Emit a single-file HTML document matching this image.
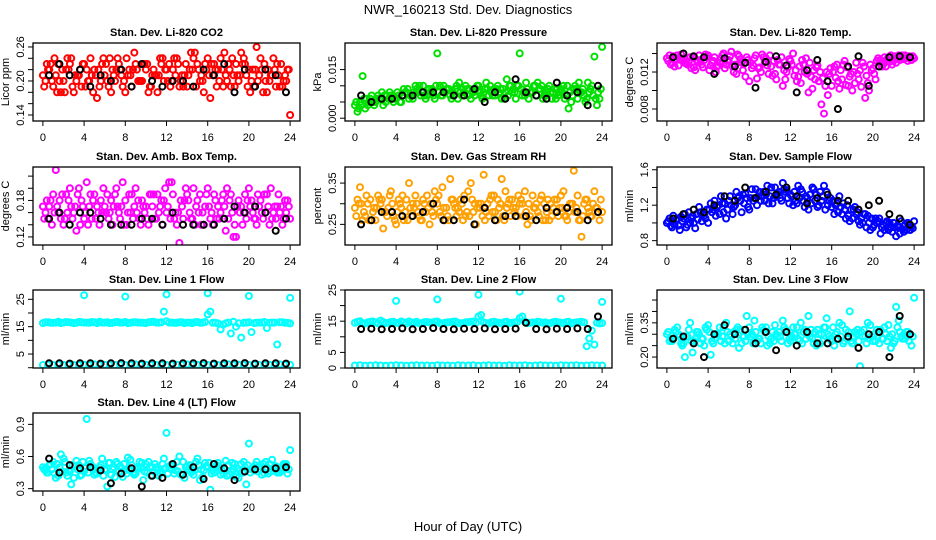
<!DOCTYPE html>
<html><head><meta charset="utf-8"><style>
html,body{margin:0;padding:0;background:#fff;}
svg{display:block;font-family:"Liberation Sans",Arial,sans-serif;}
</style></head><body>
<svg id="chart" width="936" height="540" viewBox="0 0 936 540" xmlns="http://www.w3.org/2000/svg">
<rect width="936" height="540" fill="#fff"/>
<text x="468" y="14" text-anchor="middle" font-size="13">NWR_160213 Std. Dev. Diagnostics</text>
<text x="468" y="531" text-anchor="middle" font-size="13">Hour of Day (UTC)</text>
</svg>
<script>
// ---- data ----
const xTicks = [0,4,8,12,16,20,24];
const titles = ["Stan. Dev. Li-820 CO2","Stan. Dev. Li-820 Pressure","Stan. Dev. Li-820 Temp.","Stan. Dev. Amb. Box Temp.","Stan. Dev. Gas Stream RH","Stan. Dev. Sample Flow","Stan. Dev. Line 1 Flow","Stan. Dev. Line 2 Flow","Stan. Dev. Line 3 Flow","Stan. Dev. Line 4 (LT) Flow"];
const yTitles = ["Licor ppm","kPa","degrees C","degrees C","percent","ml/min","ml/min","ml/min","ml/min","ml/min"];
const colors = ["#ff0000","#00e000","#ff00ff","#ff00ff","#ffa000","#0000ff","#00ffff","#00ffff","#00ffff","#00ffff"];
const yLims = [[0.1294,0.267],[-0.00086,0.0232],[0.0067,0.01514],[0.1067,0.235],[0.200,0.389],[0.751,1.631],[-0.1,28.4],[0,25],[0.152,0.494],[0.278,1.006]];
const yTickVals = [[0.14,0.16,0.18,0.20,0.22,0.24,0.26],[0,0.005,0.010,0.015],[0.008,0.010,0.012,0.014],[0.12,0.14,0.16,0.18,0.20,0.22],[0.25,0.30,0.35],[0.8,1.0,1.2,1.4,1.6],[0,5,10,15,20,25],[0,5,10,15,20,25],[0.20,0.25,0.30,0.35,0.40,0.45],[0.3,0.6,0.9]];
const yTickLabels = [["0.14","","","0.20","","","0.26"],["0.000","","","0.015"],["0.008","","0.012",""],["0.12","","","0.18","",""],["0.25","","0.35"],["0.8","","1.2","","1.6"],["","5","","15","","25"],["0","5","","15","","25"],["0.20","","","0.35","",""],["0.3","0.6","0.9"]];

const c1 = [
[0.21,0.22,0.19,0.23,0.20,0.22,0.18,0.21,0.23,0.20,0.22,0.19,0.21,0.24,0.20,0.22,0.18,0.21,0.23,0.20,0.22,0.19,0.21,0.23,0.22,0.20,0.24,0.21,0.19,0.22,0.23,0.20,0.24,0.21,0.22,0.19,0.23,0.21,0.20,0.24,0.22,0.19,0.21,0.23,0.20,0.22,0.19,0.21,0.14],
[0.004,0.005,0.003,0.006,0.005,0.006,0.005,0.007,0.006,0.005,0.008,0.007,0.009,0.008,0.007,0.009,0.020,0.007,0.009,0.008,0.006,0.009,0.007,0.008,0.010,0.008,0.007,0.009,0.008,0.006,0.010,0.008,0.020,0.007,0.008,0.010,0.009,0.007,0.008,0.006,0.009,0.007,0.005,0.009,0.008,0.006,0.010,0.004,0.022],
[0.0135,0.0130,0.0138,0.0133,0.0128,0.0136,0.0131,0.0125,0.0138,0.0132,0.0127,0.0140,0.0133,0.0120,0.0137,0.0129,0.0110,0.0135,0.0125,0.0131,0.0138,0.0118,0.0128,0.0112,0.0132,0.0122,0.0108,0.0135,0.0115,0.0125,0.0085,0.0120,0.0105,0.0128,0.0112,0.0125,0.0100,0.0118,0.0130,0.0108,0.0124,0.0135,0.0128,0.0136,0.0132,0.0138,0.0134,0.0137,0.0135],
[0.17,0.15,0.19,0.16,0.14,0.18,0.16,0.20,0.15,0.17,0.19,0.14,0.17,0.16,0.19,0.15,0.18,0.16,0.20,0.14,0.17,0.19,0.15,0.18,0.16,0.21,0.14,0.17,0.19,0.15,0.18,0.16,0.20,0.14,0.17,0.19,0.15,0.12,0.18,0.16,0.20,0.15,0.17,0.19,0.14,0.17,0.16,0.18,0.15],
[0.29,0.34,0.27,0.31,0.26,0.30,0.28,0.33,0.25,0.29,0.31,0.27,0.30,0.26,0.32,0.28,0.30,0.34,0.27,0.31,0.29,0.26,0.33,0.28,0.30,0.37,0.27,0.32,0.29,0.26,0.31,0.28,0.30,0.33,0.27,0.29,0.31,0.26,0.30,0.28,0.32,0.27,0.30,0.29,0.22,0.31,0.27,0.29,0.28],
[1.00,0.95,1.05,1.02,0.98,1.08,1.04,1.10,1.00,1.15,1.20,1.12,1.25,1.18,1.30,1.22,1.15,1.28,1.35,1.25,1.30,1.40,1.28,1.35,1.32,1.25,1.38,1.30,1.22,1.32,1.25,1.35,1.18,1.22,1.10,1.20,1.05,1.12,1.00,1.08,0.95,1.02,0.98,0.92,1.00,0.95,0.90,0.98,1.02],
[16.3,16.6,16.4,16.8,16.5,16.6,16.3,16.7,16.5,16.4,16.6,16.8,16.5,16.3,16.6,16.5,16.7,16.4,16.6,16.5,16.3,16.7,16.5,16.6,17.0,16.5,16.4,16.6,16.5,16.3,16.7,16.5,19.5,16.4,16.2,15.8,16.5,16.8,16.2,16.4,16.6,16.3,16.5,16.7,16.4,16.5,16.6,16.4,16.2],
[14.5,15.0,14.3,14.8,14.6,15.2,14.4,14.7,14.5,14.9,14.3,14.6,14.8,14.4,14.7,14.5,14.9,14.3,14.6,14.8,14.5,14.4,14.7,14.9,16.5,14.6,14.3,14.8,14.5,14.7,14.4,14.6,16.0,14.8,14.5,14.3,14.7,14.6,14.4,14.8,14.5,14.7,14.3,14.6,14.8,7.0,12.0,14.5,14.4],
[0.30,0.27,0.33,0.25,0.29,0.22,0.31,0.28,0.34,0.26,0.30,0.33,0.27,0.31,0.24,0.29,0.33,0.36,0.28,0.31,0.26,0.34,0.29,0.32,0.27,0.30,0.35,0.28,0.32,0.25,0.30,0.37,0.27,0.31,0.34,0.28,0.26,0.32,0.29,0.35,0.27,0.31,0.28,0.34,0.26,0.36,0.30,0.27,0.46],
[0.50,0.45,0.55,0.42,0.58,0.47,0.40,0.52,0.46,0.56,0.43,0.50,0.48,0.54,0.41,0.51,0.47,0.57,0.44,0.49,0.53,0.42,0.50,0.46,0.82,0.48,0.55,0.43,0.51,0.46,0.58,0.41,0.50,0.47,0.54,0.44,0.52,0.48,0.40,0.55,0.72,0.47,0.51,0.44,0.53,0.48,0.45,0.52,0.66]
];
const c2 = [
[0.20,0.23,0.21,0.18,0.22,0.24,0.20,0.19,0.22,0.21,0.17,0.23,0.20,0.22,0.24,0.19,0.21,0.22,0.20,0.23,0.18,0.22,0.21,0.20,0.23,0.24,0.19,0.21,0.22,0.25,0.20,0.23,0.17,0.22,0.24,0.21,0.19,0.23,0.25,0.21,0.20,0.26,0.22,0.18,0.21,0.23,0.19,0.22],
[0.002,0.013,0.004,0.005,0.007,0.004,0.006,0.005,0.007,0.009,0.006,0.008,0.010,0.007,0.009,0.006,0.010,0.008,0.007,0.009,0.008,0.010,0.006,0.009,0.007,0.011,0.008,0.009,0.006,0.012,0.008,0.010,0.007,0.009,0.008,0.011,0.006,0.009,0.008,0.007,0.010,0.003,0.009,0.011,0.007,0.008,0.019,0.006],
[0.0138,0.0126,0.0134,0.0130,0.0136,0.0122,0.0133,0.0139,0.0127,0.0120,0.0135,0.0128,0.0142,0.0118,0.0130,0.0136,0.0124,0.0113,0.0139,0.0127,0.0116,0.0133,0.0105,0.0125,0.0140,0.0115,0.0128,0.0098,0.0122,0.0110,0.0075,0.0118,0.0126,0.0102,0.0132,0.0115,0.0108,0.0122,0.0092,0.0128,0.0112,0.0133,0.0126,0.0138,0.0130,0.0136,0.0135,0.0133],
[0.16,0.18,0.23,0.15,0.19,0.17,0.13,0.18,0.21,0.15,0.17,0.16,0.19,0.14,0.17,0.21,0.16,0.15,0.18,0.17,0.14,0.19,0.16,0.18,0.21,0.15,0.11,0.18,0.16,0.14,0.19,0.17,0.15,0.18,0.16,0.13,0.19,0.12,0.17,0.15,0.18,0.14,0.16,0.19,0.15,0.17,0.14,0.18],
[0.31,0.26,0.30,0.28,0.32,0.24,0.29,0.27,0.31,0.26,0.35,0.29,0.27,0.30,0.25,0.33,0.28,0.26,0.36,0.29,0.31,0.27,0.35,0.25,0.30,0.28,0.32,0.26,0.36,0.29,0.31,0.27,0.30,0.25,0.32,0.28,0.26,0.31,0.29,0.27,0.33,0.28,0.38,0.26,0.30,0.28,0.33,0.26],
[1.05,0.98,0.92,1.10,1.00,0.94,1.12,1.05,1.22,1.08,1.30,1.05,1.20,1.35,1.12,1.28,1.38,1.20,1.30,1.42,1.22,1.33,1.45,1.28,1.20,1.42,1.25,1.15,1.38,1.20,1.42,1.25,1.10,1.30,1.15,1.02,1.18,0.98,1.10,0.92,1.05,0.88,1.00,0.95,0.85,1.02,0.92,0.96],
[16.6,16.4,16.5,16.3,16.7,16.5,16.4,16.6,16.5,16.7,16.3,16.5,16.6,16.4,16.7,16.5,16.3,16.6,16.5,16.4,16.6,16.8,16.5,20.5,16.5,16.4,16.6,16.3,16.5,16.6,16.4,16.7,20.5,16.4,14.0,16.2,12.5,15.0,11.0,16.5,13.0,16.4,16.5,14.5,16.5,8.5,16.6,16.4],
[14.8,14.4,14.6,14.9,14.3,14.7,14.5,14.8,14.4,14.6,14.9,14.5,14.3,14.7,14.6,14.8,14.4,14.5,14.7,14.9,14.3,14.6,14.8,14.5,17.0,14.4,14.7,14.6,14.3,14.8,14.5,14.7,16.5,14.4,14.6,14.8,14.5,14.3,14.7,14.6,14.4,14.8,14.5,14.7,14.6,9.5,7.5,14.3],
[0.27,0.32,0.29,0.20,0.35,0.28,0.26,0.33,0.21,0.30,0.27,0.35,0.29,0.32,0.26,0.38,0.30,0.27,0.33,0.25,0.31,0.29,0.36,0.26,0.33,0.28,0.31,0.38,0.26,0.30,0.33,0.29,0.25,0.35,0.27,0.40,0.31,0.16,0.29,0.34,0.27,0.32,0.30,0.24,0.42,0.29,0.31,0.25],
[0.47,0.53,0.40,0.62,0.45,0.34,0.56,0.43,0.95,0.50,0.44,0.58,0.32,0.48,0.53,0.41,0.59,0.45,0.50,0.38,0.55,0.46,0.42,0.58,0.49,0.44,0.60,0.40,0.52,0.47,0.38,0.54,0.29,0.50,0.43,0.56,0.46,0.41,0.53,0.34,0.48,0.55,0.43,0.50,0.57,0.45,0.49,0.44]
];
// additional samples at 0.125 + 0.5i hours
const c3 = [
[0.19,0.22,0.24,0.20,0.18,0.23,0.21,0.22,0.19,0.24,0.21,0.20,0.23,0.18,0.22,0.21,0.24,0.19,0.22,0.20,0.23,0.21,0.18,0.24,0.20,0.22,0.23,0.19,0.21,0.24,0.22,0.18,0.21,0.23,0.20,0.25,0.22,0.19,0.21,0.23,0.18,0.22,0.24,0.20,0.21,0.19,0.23,0.20],
[0.005,0.004,0.006,0.007,0.006,0.008,0.007,0.006,0.008,0.007,0.009,0.006,0.008,0.010,0.009,0.007,0.008,0.010,0.009,0.007,0.011,0.008,0.009,0.007,0.008,0.009,0.010,0.007,0.009,0.008,0.010,0.006,0.009,0.011,0.008,0.007,0.010,0.008,0.006,0.009,0.008,0.010,0.007,0.006,0.009,0.011,0.007,0.008],
[0.0132,0.0137,0.0127,0.0135,0.0131,0.0125,0.0138,0.0133,0.0122,0.0136,0.0130,0.0124,0.0137,0.0128,0.0134,0.0115,0.0130,0.0138,0.0120,0.0135,0.0126,0.0112,0.0136,0.0120,0.0128,0.0110,0.0133,0.0118,0.0102,0.0127,0.0113,0.0095,0.0120,0.0110,0.0128,0.0105,0.0120,0.0112,0.0126,0.0100,0.0118,0.0130,0.0136,0.0131,0.0137,0.0133,0.0138,0.0136],
[0.15,0.17,0.16,0.18,0.15,0.20,0.17,0.14,0.16,0.19,0.15,0.18,0.16,0.18,0.20,0.17,0.14,0.19,0.16,0.18,0.15,0.17,0.19,0.14,0.17,0.19,0.16,0.15,0.18,0.20,0.16,0.14,0.17,0.19,0.15,0.17,0.18,0.14,0.16,0.19,0.17,0.15,0.18,0.16,0.20,0.15,0.17,0.16],
[0.27,0.30,0.32,0.26,0.29,0.31,0.27,0.30,0.28,0.32,0.26,0.30,0.28,0.31,0.29,0.27,0.32,0.29,0.26,0.30,0.28,0.32,0.27,0.30,0.29,0.26,0.31,0.28,0.30,0.33,0.27,0.29,0.31,0.28,0.26,0.30,0.32,0.28,0.27,0.31,0.29,0.26,0.30,0.32,0.27,0.29,0.30,0.28],
[1.02,1.08,0.97,1.05,1.12,1.00,1.18,1.08,1.15,1.25,1.10,1.22,1.30,1.20,1.25,1.33,1.28,1.38,1.25,1.32,1.40,1.30,1.25,1.37,1.30,1.22,1.35,1.28,1.40,1.18,1.30,1.20,1.25,1.12,1.22,1.08,1.15,1.02,1.10,1.00,0.98,1.05,0.92,1.00,0.95,0.88,0.98,0.92],
null, null,
[0.31,0.28,0.30,0.26,0.32,0.27,0.30,0.25,0.31,0.28,0.33,0.26,0.30,0.28,0.32,0.27,0.29,0.31,0.26,0.33,0.28,0.30,0.27,0.31,0.29,0.33,0.26,0.30,0.28,0.32,0.27,0.30,0.33,0.28,0.26,0.31,0.29,0.27,0.32,0.28,0.30,0.26,0.33,0.29,0.27,0.31,0.28,0.30],
[0.48,0.52,0.44,0.50,0.55,0.46,0.51,0.42,0.49,0.53,0.45,0.52,0.47,0.43,0.55,0.49,0.44,0.52,0.48,0.54,0.45,0.50,0.47,0.53,0.44,0.51,0.46,0.55,0.48,0.43,0.52,0.47,0.54,0.45,0.50,0.48,0.43,0.53,0.47,0.50,0.45,0.52,0.48,0.55,0.46,0.51,0.47,0.53]
];
// additional samples at 0.375 + 0.5i hours
const c4 = [
[0.23,0.20,0.18,0.22,0.24,0.19,0.21,0.23,0.20,0.18,0.22,0.24,0.19,0.21,0.23,0.20,0.22,0.25,0.20,0.23,0.19,0.21,0.24,0.22,0.19,0.21,0.20,0.23,0.25,0.19,0.21,0.22,0.23,0.19,0.22,0.20,0.24,0.21,0.23,0.19,0.22,0.20,0.18,0.22,0.24,0.21,0.20,0.22],
[0.003,0.006,0.005,0.004,0.006,0.007,0.008,0.006,0.005,0.008,0.007,0.010,0.007,0.006,0.008,0.010,0.007,0.009,0.006,0.010,0.007,0.009,0.008,0.010,0.006,0.009,0.007,0.010,0.009,0.007,0.009,0.010,0.008,0.006,0.010,0.009,0.007,0.010,0.009,0.008,0.006,0.008,0.010,0.008,0.005,0.009,0.006,0.009],
[0.0128,0.0134,0.0139,0.0129,0.0124,0.0133,0.0128,0.0136,0.0130,0.0126,0.0138,0.0132,0.0126,0.0139,0.0122,0.0133,0.0127,0.0124,0.0136,0.0118,0.0132,0.0128,0.0122,0.0134,0.0116,0.0126,0.0120,0.0130,0.0112,0.0120,0.0105,0.0124,0.0114,0.0122,0.0106,0.0118,0.0130,0.0104,0.0116,0.0122,0.0132,0.0126,0.0134,0.0128,0.0134,0.0138,0.0132,0.0137],
[0.18,0.14,0.17,0.19,0.16,0.15,0.19,0.17,0.14,0.18,0.16,0.20,0.15,0.17,0.16,0.14,0.19,0.17,0.15,0.16,0.19,0.15,0.17,0.20,0.15,0.16,0.18,0.20,0.15,0.17,0.14,0.19,0.16,0.15,0.18,0.20,0.16,0.17,0.14,0.18,0.16,0.19,0.15,0.17,0.16,0.19,0.15,0.17],
[0.30,0.28,0.26,0.29,0.31,0.28,0.32,0.26,0.30,0.28,0.29,0.32,0.26,0.28,0.30,0.31,0.27,0.29,0.31,0.27,0.30,0.28,0.31,0.29,0.27,0.30,0.28,0.31,0.27,0.30,0.29,0.32,0.27,0.30,0.29,0.27,0.30,0.26,0.31,0.29,0.27,0.30,0.28,0.26,0.31,0.27,0.29,0.31],
[0.97,1.03,1.07,0.95,1.05,1.10,1.02,1.15,1.12,1.18,1.22,1.15,1.10,1.28,1.32,1.18,1.25,1.30,1.35,1.22,1.28,1.35,1.38,1.22,1.35,1.28,1.18,1.32,1.25,1.35,1.15,1.28,1.20,1.18,1.05,1.15,1.10,1.05,0.95,1.05,1.00,0.95,1.02,0.90,0.97,0.93,1.00,0.94],
null, null,
[0.28,0.31,0.26,0.29,0.27,0.31,0.28,0.32,0.27,0.30,0.29,0.31,0.26,0.33,0.29,0.30,0.26,0.28,0.32,0.29,0.27,0.31,0.33,0.28,0.30,0.27,0.32,0.29,0.31,0.26,0.33,0.28,0.30,0.29,0.32,0.27,0.30,0.31,0.26,0.29,0.32,0.28,0.27,0.30,0.33,0.28,0.31,0.29],
[0.45,0.48,0.53,0.46,0.42,0.52,0.48,0.55,0.45,0.50,0.47,0.42,0.54,0.50,0.46,0.53,0.48,0.43,0.55,0.46,0.50,0.53,0.44,0.49,0.52,0.47,0.43,0.50,0.45,0.55,0.48,0.51,0.44,0.52,0.47,0.42,0.54,0.49,0.45,0.52,0.50,0.46,0.53,0.44,0.49,0.46,0.53,0.48]
];
// low-band coloured series (flow lines 1 and 2), same hours as c1
const lowBand = {
 6:[1.0,1.1,1.0,1.2,1.0,1.1,1.0,1.0,1.1,1.0,1.2,1.0,1.1,1.0,1.0,1.1,1.0,1.0,1.2,1.0,1.1,1.0,1.0,1.1,1.0,1.0,1.1,1.0,1.2,1.0,1.1,1.0,1.0,1.1,1.0,1.0,1.2,1.0,1.1,1.0,1.0,1.1,1.0,1.0,1.1,1.0,1.2,1.0,1.1],
 7:[0.8,0.9,0.7,0.8,0.9,0.8,0.7,0.8,0.9,0.8,0.7,0.8,0.9,0.8,0.8,0.7,0.9,0.8,0.8,0.7,0.9,0.8,0.8,0.9,0.7,0.8,0.9,0.8,0.8,0.7,0.9,0.8,0.8,0.9,0.7,0.8,0.9,0.8,0.8,0.7,0.9,0.8,0.8,0.9,0.7,0.8,0.9,0.8,0.8]
};
const outHours = [4,8,12,16,20,24];
const outVals = {6:[26.5,26.0,26.8,27.2,26.2,25.5], 7:[21.5,22.0,23.5,24.5,22.2,21.2]};
const black = [
[0.21,0.23,0.21,0.22,0.19,0.21,0.20,0.22,0.19,0.23,0.20,0.19,0.20,0.20,0.19,0.22,0.21,0.23,0.18,0.22,0.19,0.22,0.21,0.18],
[0.007,0.005,0.006,0.006,0.007,0.007,0.008,0.008,0.008,0.007,0.007,0.009,0.005,0.008,0.006,0.012,0.008,0.007,0.006,0.011,0.007,0.008,0.004,0.010],
[0.0136,0.0140,0.0137,0.0136,0.0118,0.0135,0.0126,0.0130,0.0103,0.0131,0.0137,0.0127,0.0098,0.0122,0.0133,0.0110,0.0080,0.0126,0.0137,0.0105,0.0126,0.0136,0.0137,0.0136],
[0.15,0.16,0.14,0.16,0.16,0.15,0.14,0.14,0.14,0.15,0.15,0.14,0.16,0.14,0.14,0.14,0.14,0.15,0.17,0.16,0.17,0.16,0.13,0.15],
[0.25,0.26,0.28,0.28,0.27,0.27,0.28,0.30,0.26,0.26,0.31,0.25,0.29,0.26,0.27,0.27,0.27,0.26,0.29,0.28,0.29,0.28,0.26,0.28],
[1.05,1.10,1.15,1.12,1.20,1.30,1.25,1.40,1.28,1.35,1.32,1.40,1.30,1.22,1.28,1.32,1.25,1.25,1.15,1.20,1.25,1.10,1.05,0.98],
[1.6,1.6,1.5,1.6,1.6,1.5,1.6,1.7,1.6,1.5,1.6,1.6,1.5,1.6,1.6,1.7,1.5,1.6,1.6,1.7,1.5,1.6,1.6,1.5],
[12.5,12.6,12.4,12.5,12.7,12.4,12.5,12.8,12.5,12.4,12.6,12.5,12.7,12.4,12.5,12.6,14.5,12.5,12.4,12.6,12.5,12.7,12.5,16.5],
[0.28,0.29,0.26,0.20,0.30,0.34,0.30,0.32,0.26,0.31,0.23,0.31,0.25,0.31,0.26,0.26,0.28,0.29,0.24,0.30,0.31,0.20,0.38,0.30],
[0.58,0.45,0.52,0.49,0.50,0.47,0.35,0.44,0.49,0.32,0.42,0.40,0.53,0.43,0.50,0.39,0.53,0.49,0.38,0.46,0.48,0.48,0.49,0.50]
];

// ---- layout ----
const NS = "http://www.w3.org/2000/svg";
const svg = document.getElementById("chart");
const colLeft = [33,345,657], rowTop = [43,167,290,413], W = 267, H = 78;
function mk(tag, attrs, parent){ const e=document.createElementNS(NS,tag); for(const k in attrs) e.setAttribute(k,attrs[k]); (parent||svg).appendChild(e); return e; }
function xScale(L,h){ return L + (h+0.96)/25.92*W; }
function yScale(T,lim,v){ return T + H - (v-lim[0])/(lim[1]-lim[0])*H; }

for(let p=0;p<10;p++){
  const L = colLeft[p%3], T = rowTop[Math.floor(p/3)], lim = yLims[p];
  const g = mk("g",{});
  
  
  const clip = mk("clipPath",{id:"cl"+p}, g);
  mk("rect",{x:L,y:T,width:W,height:H},clip);
  const t = mk("text",{x:L+W/2,y:T-7,"text-anchor":"middle","font-size":"11","font-weight":"bold"},g);
  t.textContent = titles[p];
  
  
  const yt = mk("text",{transform:`translate(${L-24},${T+H/2}) rotate(-90)`,"text-anchor":"middle","font-size":"11"},g);
  yt.textContent = yTitles[p];
  
  
  const pts = mk("g",{"clip-path":`url(#cl${p})`,fill:"none","stroke-width":"2"},g);
  
  
  const col = colors[p];
  function dot(h,v,c){
    const ci = mk("circle",{cx:xScale(L,h).toFixed(1),cy:yScale(T,lim,v).toFixed(1),r:3,stroke:c},pts);
    
    
  }
  if(lowBand[p]) lowBand[p].forEach((v,i)=>dot(i*0.5,v,col));
  c1[p].forEach((v,i)=>dot(i*0.5,v,col));
  c2[p].forEach((v,i)=>dot(0.25+i*0.5,v,col));
  if(c3[p]) c3[p].forEach((v,i)=>dot(0.125+i*0.5,v,col));
  if(c4[p]) c4[p].forEach((v,i)=>dot(0.375+i*0.5,v,col));
  if(outVals[p]) outVals[p].forEach((v,i)=>dot(outHours[i],v,col));
  black[p].forEach((v,i)=>dot(i+0.6,v,"#000"));
  const box = mk("rect",{x:L,y:T,width:W,height:H,fill:"none",stroke:"#000","stroke-width":"1.3"},g);
  
  
  const xa = mk("g",{stroke:"#000","stroke-width":"1"},g);
  
  
  mk("line",{x1:xScale(L,0),x2:xScale(L,24),y1:T+H,y2:T+H},xa);
  xTicks.forEach(h=>{
    const x = xScale(L,h);
    mk("line",{x1:x,x2:x,y1:T+H,y2:T+H+5},xa);
    const tl = mk("text",{x:x,y:T+H+20,"text-anchor":"middle","font-size":"11",stroke:"none",fill:"#000"},xa);
    tl.textContent = h;
    
    
  });
  const ya = mk("g",{stroke:"#000","stroke-width":"1"},g);
  
  
  const tv = yTickVals[p];
  mk("line",{x1:L,x2:L,y1:yScale(T,lim,tv[0]),y2:yScale(T,lim,tv[tv.length-1])},ya);
  tv.forEach((v,i)=>{
    const y = yScale(T,lim,v);
    mk("line",{x1:L-5,x2:L,y1:y,y2:y},ya);
    if(yTickLabels[p][i]){
      const tl = mk("text",{transform:`translate(${L-9},${y}) rotate(-90)`,"text-anchor":"middle","font-size":"11",stroke:"none",fill:"#000"},ya);
      tl.textContent = yTickLabels[p][i];
      
      
    }
  });
}
</script>
</body></html>
